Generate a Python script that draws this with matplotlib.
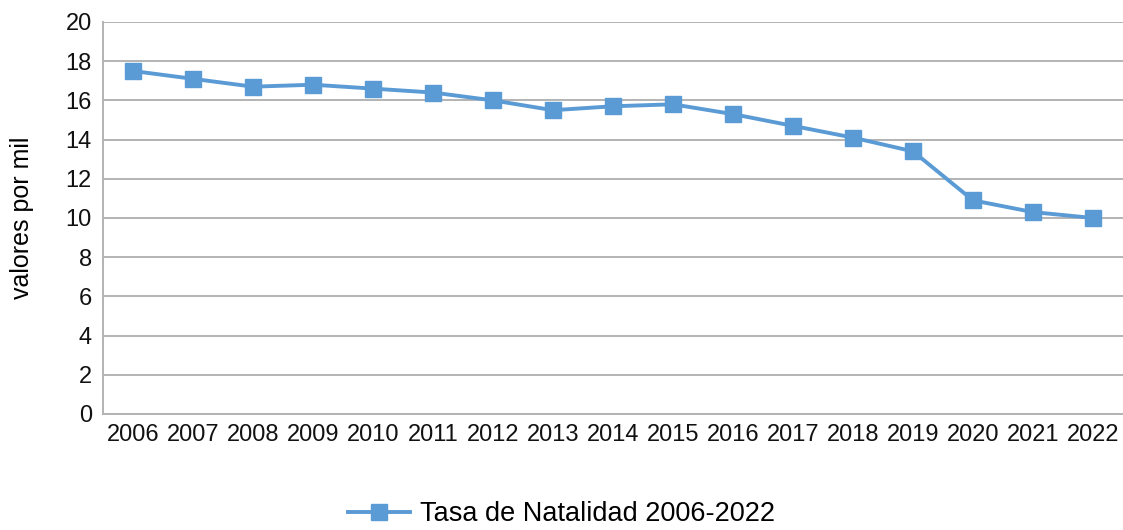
import matplotlib
matplotlib.use("Agg")
import matplotlib.pyplot as plt

years = ['2006', '2007', '2008', '2009', '2010', '2011', '2012', '2013', '2014',
         '2015', '2016', '2017', '2018', '2019', '2020', '2021', '2022']
natalidad = [17.5, 17.1, 16.7, 16.8, 16.6, 16.4, 16.0, 15.5, 15.7,
             15.8, 15.3, 14.7, 14.1, 13.4, 10.9, 10.3, 10.0]
y_ticks = [0, 2, 4, 6, 8, 10, 12, 14, 16, 18, 20]
serie_label = 'Tasa de Natalidad 2006-2022'

plt.rcParams['font.family'] = ['Liberation Sans', 'DejaVu Sans']

fig = plt.figure(figsize=(11.23, 5.30), dpi=100)
ax = fig.add_axes([0.0917, 0.2189, 0.9083, 0.7396])

x = list(range(len(years)))
line, = ax.plot(x, natalidad, color='#5B9BD5', linewidth=2.8,
                marker='s', markersize=11.5, label=serie_label, zorder=3)

ax.set_xlim(-0.5, len(years) - 0.5)
ax.set_ylim(0, 20)
ax.set_yticks(y_ticks)
ax.set_xticks(x)
ax.set_xticklabels(years)
ax.tick_params(axis='both', length=0, labelsize=17, colors='#111111')
ax.tick_params(axis='x', pad=7)
ax.tick_params(axis='y', pad=8)

ax.grid(axis='y', color='#B3B3B3', linewidth=1.4)
ax.set_axisbelow(True)
for side in ['top', 'right']:
    ax.spines[side].set_visible(False)
for side in ['left', 'bottom']:
    ax.spines[side].set_color('#B3B3B3')
    ax.spines[side].set_linewidth(1.4)

ax.set_ylabel('valores por mil', fontsize=18)
ax.yaxis.set_label_coords(-0.068, 0.5)

fig.legend(handles=[line], loc='center', bbox_to_anchor=(0.5, 0.03),
           frameon=False, fontsize=19.5, handlelength=2.3, handletextpad=0.35,
           borderpad=0.1)

fig.savefig('out.png', dpi=100)
plt.close(fig)
